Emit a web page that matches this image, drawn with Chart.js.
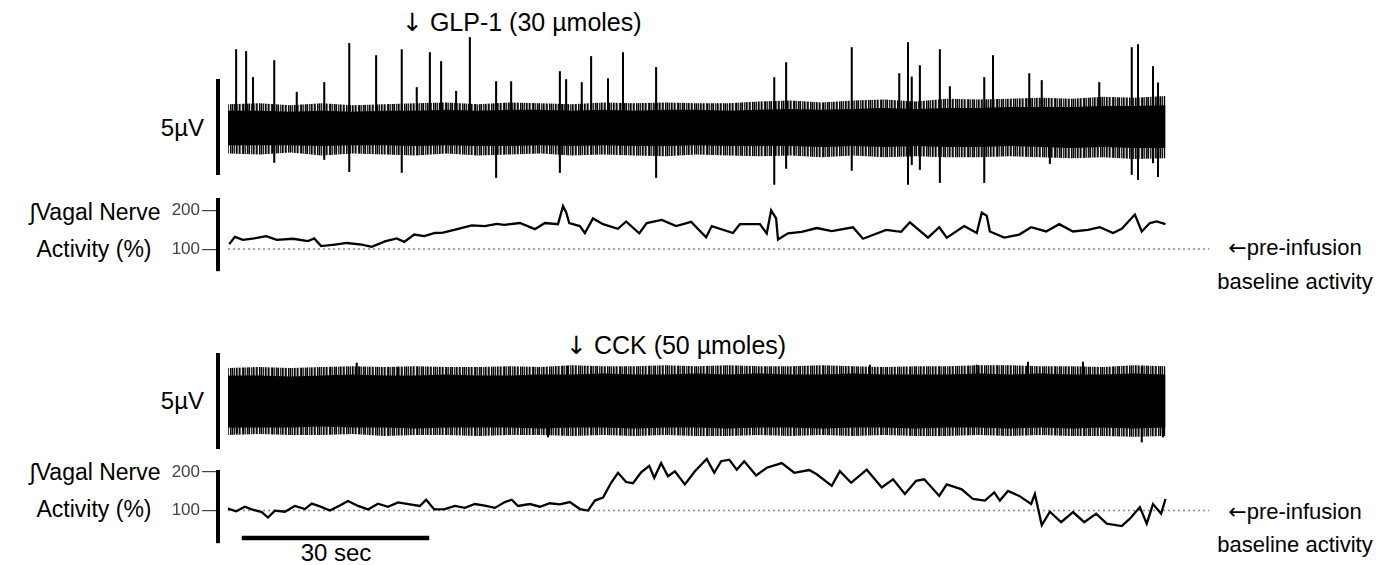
<!DOCTYPE html>
<html>
<head>
<meta charset="utf-8">
<script src="https://cdn.jsdelivr.net/npm/chart.js@4.4.1/dist/chart.umd.min.js"></script>
<style>
  html, body { margin: 0; padding: 0; background: #fff; }
  body { width: 1390px; height: 565px; position: relative; overflow: hidden;
         font-family: 'Liberation Sans', Arial, sans-serif; color: #000; }
  canvas { position: absolute; left: 0; }
  .lbl { position: absolute; white-space: nowrap; line-height: 1; transform: translateY(-50%); }
  .mid { transform: translate(-50%, -50%); text-align: center; }
  .rgt { transform: translate(-100%, -50%); }
  .arw { font-family: 'DejaVu Sans', sans-serif; }
</style>
</head>
<body>

<div class="lbl" style="left:402px; top:22px; font-size:25px"><span class="arw">↓</span> GLP-1 (30 µmoles)</div>
<div class="lbl rgt" style="left:204px; top:128px; font-size:24px">5µV</div>
<div class="lbl mid" style="left:95px; top:212px; font-size:23px">∫Vagal Nerve</div>
<div class="lbl mid" style="left:94px; top:249px; font-size:23px">Activity (%)</div>
<div class="lbl mid" style="left:1295px; top:248px; font-size:22px"><span class="arw">←</span>pre-infusion</div>
<div class="lbl mid" style="left:1295px; top:282px; font-size:22px">baseline activity</div>

<div class="lbl" style="left:566px; top:345px; font-size:25px"><span class="arw">↓</span> CCK (50 µmoles)</div>
<div class="lbl rgt" style="left:204px; top:401px; font-size:24px">5µV</div>
<div class="lbl mid" style="left:95px; top:472px; font-size:23px">∫Vagal Nerve</div>
<div class="lbl mid" style="left:94px; top:509px; font-size:23px">Activity (%)</div>
<div class="lbl mid" style="left:1295px; top:512px; font-size:22px"><span class="arw">←</span>pre-infusion</div>
<div class="lbl mid" style="left:1295px; top:545px; font-size:22px">baseline activity</div>
<div class="lbl mid" style="left:336px; top:553px; font-size:24px">30 sec</div>

<canvas id="rawGlp"></canvas>
<canvas id="intGlp"></canvas>
<canvas id="rawCck"></canvas>
<canvas id="intCck"></canvas>

<script>
// time axis in seconds, shared by all four strips
const X_MIN = -1.6
const X_MAX = 158

// raw nerve recording: band envelope (µV) every 5 s
const BAND_T = [0, 5, 10, 15, 20, 25, 30, 35, 40, 45, 50, 55, 60, 65, 70, 75,
                80, 85, 90, 95, 100, 105, 110, 115, 120, 125, 130, 135, 140, 145, 150]

const glpCoreHi = [0.9, 0.9, 0.85, 0.9, 0.85, 0.9, 0.9, 0.95, 0.9, 0.95, 0.95, 0.9, 0.95, 0.9, 0.95, 0.95,
                   0.9, 0.95, 1.0, 0.95, 1.0, 1.05, 1.0, 1.05, 1.05, 1.1, 1.1, 1.1, 1.15, 1.15, 1.2]
const glpHairHi = [1.25, 1.3, 1.2, 1.3, 1.2, 1.25, 1.3, 1.35, 1.25, 1.35, 1.3, 1.25, 1.35, 1.3, 1.35, 1.3,
                   1.3, 1.4, 1.45, 1.35, 1.45, 1.5, 1.4, 1.55, 1.5, 1.55, 1.6, 1.55, 1.65, 1.6, 1.7]
const glpCoreLo = [-0.95, -0.95, -0.95, -1.0, -0.95, -0.95, -1.0, -0.95, -1.0, -1.0, -0.95, -1.0, -0.95, -1.0, -1.0, -0.95,
                   -1.0, -1.0, -1.0, -1.05, -1.0, -1.05, -1.0, -1.05, -1.05, -1.0, -1.05, -1.1, -1.05, -1.1, -1.1]
const glpHairLo = [-1.4, -1.45, -1.35, -1.5, -1.4, -1.45, -1.5, -1.4, -1.5, -1.45, -1.4, -1.5, -1.45, -1.5, -1.55, -1.45,
                   -1.5, -1.55, -1.5, -1.6, -1.5, -1.6, -1.55, -1.6, -1.6, -1.55, -1.6, -1.65, -1.6, -1.7, -1.65]

// single-unit spikes above / below the GLP-1 band (s, µV)
const glpUpT = [1.3, 2.9, 4.0, 7.4, 11.0, 15.4, 19.4, 23.7, 27.8, 30.2, 32.3, 34.1, 36.5, 38.7, 42.9, 45.3, 53.1, 54.1,
                56.6, 58.1, 60.8, 63.2, 68.5, 87.4, 89.3, 99.8, 107.4, 108.8, 109.4, 110.7, 113.9, 115.5, 121.0,
                122.4, 128.2, 130.2, 139.4, 144.6, 145.6, 148.0, 148.8]
const glpUpV = [4.19, 4.09, 2.69, 3.6, 1.9, 2.42, 4.52, 3.87, 4.19, 2.15, 4.03, 3.55, 1.95, 4.84, 2.47, 2.47, 3.01, 2.58,
                2.42, 3.82, 2.63, 4.03, 3.23, 2.69, 3.49, 4.3, 2.9, 4.57, 2.72, 3.33, 4.19, 2.2, 2.69,
                3.87, 2.9, 2.53, 2.42, 4.3, 4.46, 3.28, 2.4]
const glpDownT = [7.4, 15.4, 19.4, 27.8, 42.9, 53.1, 68.5, 87.4, 89.3, 99.8, 108.8, 109.4, 110.7, 113.9,
                  121.0, 131.5, 144.6, 145.6, 148.0, 148.8]
const glpDownV = [-1.88, -1.72, -2.37, -2.42, -2.69, -2.42, -2.69, -3.06, -2.2, -2.31, -3.06, -2.0, -2.26, -2.96,
                  -2.96, -1.94, -2.53, -2.8, -1.9, -2.64]

const cckCoreHi = [1.4, 1.4, 1.35, 1.4, 1.45, 1.4, 1.4, 1.45, 1.4, 1.4, 1.45, 1.45, 1.5, 1.45, 1.45, 1.5,
                   1.45, 1.5, 1.45, 1.45, 1.5, 1.45, 1.45, 1.45, 1.5, 1.45, 1.5, 1.45, 1.45, 1.5, 1.45]
const cckHairHi = [1.8, 1.85, 1.8, 1.85, 1.9, 1.85, 1.9, 1.85, 1.85, 1.9, 1.85, 1.95, 1.9, 1.9, 1.95, 1.9,
                   1.95, 1.9, 1.9, 1.95, 1.9, 1.85, 1.9, 1.9, 1.95, 1.95, 1.9, 1.9, 1.85, 1.95, 1.9]
const cckCoreLo = [-1.4, -1.4, -1.4, -1.35, -1.4, -1.4, -1.45, -1.4, -1.4, -1.4, -1.45, -1.4, -1.4, -1.45, -1.4, -1.4,
                   -1.45, -1.4, -1.4, -1.45, -1.4, -1.4, -1.45, -1.4, -1.4, -1.45, -1.4, -1.45, -1.4, -1.45, -1.4]
const cckHairLo = [-1.8, -1.75, -1.8, -1.8, -1.75, -1.85, -1.8, -1.8, -1.85, -1.8, -1.8, -1.85, -1.8, -1.85, -1.8, -1.85,
                   -1.85, -1.8, -1.85, -1.8, -1.85, -1.8, -1.85, -1.85, -1.8, -1.85, -1.8, -1.85, -1.85, -1.9, -1.85]

const cckUpT = [20.6, 27.2, 54.4, 102.7, 119.8, 128.0, 136.8, 146.2]
const cckUpV = [2.07, 1.85, 1.9, 1.96, 1.96, 2.12, 2.12, 1.85]
const cckDownT = [1.4, 51.2, 146.2, 149.6]
const cckDownV = [-1.69, -1.91, -2.18, -1.91]

// integrated activity, % of pre-infusion baseline
const glpT = [0.2, 1.1, 2.4, 4.2, 6.1, 7.8, 10.4, 12.8, 13.8, 14.9, 17.1, 19.0, 21.4, 23.0, 25.1, 27.0,
              28.2, 29.8, 31.4, 33.1, 34.4, 36.2, 39.0, 41.1, 43.0, 44.2, 46.7, 49.1, 50.7, 52.8, 53.6, 54.1,
              54.6, 56.3, 57.1, 58.4, 60.0, 62.4, 63.7, 65.8, 67.0, 69.4, 71.7, 74.1, 76.5, 77.4, 80.8, 81.9,
              85.1, 86.2, 86.9, 87.7, 88.0, 89.6, 91.8, 94.2, 96.6, 100.0, 101.6, 105.3, 107.7, 109.1, 112.0,
              113.8, 115.0, 117.8, 119.8, 120.6, 121.4, 121.9, 124.2, 126.6, 128.5, 130.9, 133.0, 135.2, 137.6,
              139.5, 141.6, 143.0, 145.1, 146.2, 147.5, 148.6, 150.0]
const glpPct = [113, 132, 124, 128, 134, 124, 127, 121, 128, 108, 112, 116, 112, 106, 120, 128,
                119, 138, 134, 142, 143, 150, 162, 160, 166, 163, 168, 152, 168, 165, 212, 196,
                168, 160, 142, 180, 165, 153, 172, 141, 168, 176, 160, 171, 131, 160, 142, 165,
                165, 141, 201, 180, 125, 141, 145, 155, 147, 157, 127, 150, 145, 170, 130,
                157, 130, 160, 142, 195, 187, 146, 130, 138, 157, 146, 165, 146, 150,
                157, 142, 153, 190, 146, 168, 172, 165]

const cckT = [0.0, 1.3, 2.7, 3.8, 5.4, 6.4, 7.5, 9.1, 10.7, 12.3, 13.4, 14.7, 16.3, 17.9, 19.2, 20.8,
              22.4, 24.0, 25.6, 27.2, 29.1, 30.7, 31.7, 33.0, 34.7, 36.3, 37.9, 39.5, 41.1, 42.7, 44.3, 45.4,
              46.4, 48.3, 49.9, 51.5, 53.1, 54.7, 56.3, 57.6, 58.7, 60.0, 61.3, 62.4, 63.7, 64.8, 66.1, 67.4,
              68.2, 69.3, 70.4, 71.5, 73.1, 74.7, 76.6, 77.8, 78.9, 80.2, 81.4, 82.6, 84.5, 86.2, 88.6, 90.6,
              93.0, 94.2, 96.6, 97.9, 99.7, 102.2, 104.6, 106.4, 108.3, 110.1, 111.4, 113.8, 115.0, 117.4,
              119.2, 121.1, 122.6, 123.5, 124.8, 126.6, 128.5, 129.1, 130.2, 131.5, 133.3, 135.2, 137.0,
              138.9, 140.6, 143.0, 144.3, 145.9, 147.0, 148.0, 149.3, 150.0]
const cckPct = [105, 98, 110, 103, 96, 82, 100, 97, 112, 104, 118, 111, 100, 113, 125, 112,
                103, 118, 110, 121, 116, 112, 128, 103, 104, 112, 107, 117, 113, 107, 122, 128,
                112, 117, 110, 119, 116, 122, 104, 100, 126, 134, 172, 198, 174, 171, 199, 216,
                185, 223, 189, 202, 168, 202, 234, 198, 228, 232, 206, 228, 191, 211, 223, 198,
                205, 194, 164, 202, 172, 206, 160, 181, 143, 177, 181, 138, 168, 155,
                130, 126, 147, 126, 151, 138, 117, 143, 62, 97, 70, 96, 70,
                92, 66, 60, 79, 109, 66, 117, 92, 130]

const BASELINE_T = [0, 157]
const BASELINE_PCT = 100
const PCT_TICKS = [100, 200]
const SCALE_BAR_T = [2.2, 32.2]   // 30 sec calibration bar
const SCALE_BAR_PCT = 29

const FONT = "'Liberation Sans Narrow', 'Liberation Sans', Arial, sans-serif"
const CHART_RIGHT_PAD = 174.5
const AXIS_X = 218

const pts = (xs, ys) => xs.map((x, i) => ({ x, y: Array.isArray(ys) ? ys[i] : ys }))
const bars = (xs, ys) => xs.map((x, i) => ({ x, y: [0, ys[i]] }))

function sizeCanvas(id, top, height) {
  const c = document.getElementById(id)
  c.width = 1390
  c.height = height
  c.style.width = '1390px'
  c.style.height = height + 'px'
  c.style.top = top + 'px'
  return c
}

// fine vertical striping so the fringe of the band reads as individual hairs
function hairPattern() {
  const cols = ['#000', '#8a8a8a', '#1a1a1a', '#c8c8c8', '#000', '#555', '#a0a0a0', '#0a0a0a', '#666', '#e0e0e0',
                '#222', '#000', '#777', '#333', '#bdbdbd', '#111', '#4a4a4a', '#000', '#d5d5d5', '#2a2a2a',
                '#909090', '#000', '#5c5c5c', '#b0b0b0', '#151515', '#3d3d3d', '#f0f0f0', '#000', '#6e6e6e']
  const p = document.createElement('canvas')
  p.width = cols.length
  p.height = 4
  const g = p.getContext('2d')
  cols.forEach((c, i) => { g.fillStyle = c; g.fillRect(i, 0, 1, 4) })
  return g.createPattern(p, 'repeat')
}
const HAIR = hairPattern()

function bandSet(ys, color, fill, order) {
  return {
    type: 'line', data: pts(BAND_T, ys), fill, backgroundColor: color,
    borderWidth: 0, borderColor: 'rgba(0,0,0,0)', pointRadius: 0, tension: 0, order
  }
}

function spikeSet(data) {
  return {
    type: 'bar', data, backgroundColor: '#000', borderWidth: 0, grouped: false,
    barThickness: 1.4, clip: false, order: 0
  }
}

function rawChart(id, top, height, padTop, padBottom, env, up, down) {
  const canvas = sizeCanvas(id, top, height)
  return new Chart(canvas, {
    type: 'line',
    data: {
      datasets: [
        bandSet(env.hairHi, HAIR, '+1', 3),
        bandSet(env.hairLo, HAIR, false, 3),
        bandSet(env.coreHi, '#000', '+1', 2),
        bandSet(env.coreLo, '#000', false, 2),
        spikeSet(up),
        spikeSet(down)
      ]
    },
    options: {
      responsive: false,
      animation: false,
      events: [],
      layout: { padding: { left: AXIS_X - 2, right: CHART_RIGHT_PAD, top: padTop, bottom: padBottom } },
      plugins: { legend: { display: false }, tooltip: { enabled: false } },
      scales: {
        x: { type: 'linear', min: X_MIN, max: X_MAX, offset: false, display: false },
        y: {
          min: -2.5, max: 2.5,
          afterFit: s => { s.width = 2 },
          ticks: { display: false },
          grid: { display: false, drawTicks: false },
          border: { display: true, width: 4, color: '#000' }
        }
      }
    }
  })
}

function intChart(id, top, height, padTop, padBottom, yMin, yMax, times, pct, withScaleBar) {
  const canvas = sizeCanvas(id, top, height)
  const datasets = [
    {
      type: 'line', data: pts(times, pct), borderColor: '#000', borderWidth: 2.3,
      borderJoinStyle: 'miter', pointRadius: 0, tension: 0, clip: false, order: 1
    },
    {
      type: 'line', data: pts(BASELINE_T, BASELINE_PCT), borderColor: '#8a8a8a', borderWidth: 1.5,
      borderDash: [2, 3], pointRadius: 0, order: 2
    }
  ]
  if (withScaleBar) {
    datasets.push({
      type: 'line', data: pts(SCALE_BAR_T, SCALE_BAR_PCT), borderColor: '#000', borderWidth: 4.5,
      borderCapStyle: 'butt', pointRadius: 0, clip: false, order: 0
    })
  }
  return new Chart(canvas, {
    type: 'line',
    data: { datasets },
    options: {
      responsive: false,
      animation: false,
      events: [],
      layout: { padding: { left: AXIS_X - 60, right: CHART_RIGHT_PAD, top: padTop, bottom: padBottom } },
      plugins: { legend: { display: false }, tooltip: { enabled: false } },
      scales: {
        x: { type: 'linear', min: X_MIN, max: X_MAX, display: false },
        y: {
          min: yMin, max: yMax,
          afterFit: s => { s.width = 60 },
          afterBuildTicks: s => { s.ticks = PCT_TICKS.map(v => ({ value: v })) },
          ticks: { color: '#444', font: { family: FONT, size: 17 }, padding: 2 },
          grid: { drawOnChartArea: false, drawTicks: true, tickLength: 16, color: '#444', lineWidth: 1.2 },
          border: { display: true, width: 4, color: '#000' }
        }
      }
    }
  })
}

rawChart('rawGlp', 28, 172, 53, 26,
  { hairHi: glpHairHi, hairLo: glpHairLo, coreHi: glpCoreHi, coreLo: glpCoreLo },
  bars(glpUpT, glpUpV), bars(glpDownT, glpDownV))

intChart('intGlp', 180, 110, 20, 19, 43, 228, glpT, glpPct, false)

rawChart('rawCck', 340, 120, 15, 12,
  { hairHi: cckHairHi, hairLo: cckHairLo, coreHi: cckCoreHi, coreLo: cckCoreLo },
  bars(cckUpT, cckUpV), bars(cckDownT, cckDownV))

intChart('intCck', 440, 120, 32, 17, 16, 200, cckT, cckPct, true)
</script>
</body>
</html>
